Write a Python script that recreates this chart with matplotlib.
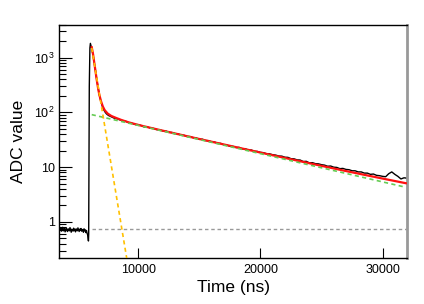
import matplotlib
matplotlib.use("Agg")
import matplotlib.pyplot as plt
from matplotlib.ticker import LogLocator, FixedLocator, NullFormatter

plt.rcParams['font.family'] = ['Liberation Sans', 'DejaVu Sans']
plt.rcParams['mathtext.fontset'] = 'custom'
plt.rcParams['mathtext.rm'] = 'Liberation Sans'

# ---- data ----
base_t = [3560 + 50 * i for i in range(47)]
base_v = [0.74, 0.70, 0.77, 0.68, 0.73, 0.80, 0.69, 0.71, 0.76, 0.66, 0.72, 0.78,
          0.70, 0.67, 0.75, 0.73, 0.69, 0.79, 0.71, 0.65, 0.74, 0.72, 0.68, 0.77,
          0.70, 0.73, 0.66, 0.75, 0.71, 0.69, 0.78, 0.72, 0.67, 0.74, 0.70, 0.76,
          0.68, 0.71, 0.73, 0.65, 0.75, 0.69, 0.72, 0.64, 0.70, 0.62, 0.58]

pulse_t = [5920, 5940, 5990, 6040, 6080, 6130, 6190, 6300, 6400, 6500, 6600, 6700,
           6800, 6900, 7000, 7100, 7200, 7300, 7400, 7500, 7600, 7700, 7800, 7900, 8000]
pulse_v = [0.45, 0.6, 300, 1500, 1820, 1650, 1450, 1100, 800, 570, 400, 290,
           215, 172, 142, 122, 109, 100, 94, 90, 87, 85, 83, 81, 79]

tail_t = [8250 + 250 * i for i in range(96)]
tail_v = [76.5, 73.0, 70.2, 68.5, 64.0, 63.2, 60.0, 59.8, 57.5, 54.0, 54.3, 51.5,
          51.0, 48.6, 48.2, 46.0, 45.8, 43.2, 43.0, 41.0, 40.6, 38.5, 38.2, 36.3,
          36.2, 34.5, 34.0, 32.2, 32.4, 30.6, 30.5, 29.0, 28.8, 27.2, 27.2, 25.5,
          25.4, 24.0, 24.0, 22.8, 23.0, 21.6, 21.8, 20.5, 20.6, 19.5, 19.4, 18.6,
          18.4, 17.6, 17.5, 16.9, 16.6, 16.0, 15.9, 15.2, 15.1, 14.3, 14.2, 13.6,
          13.5, 12.7, 12.8, 12.0, 12.1, 11.6, 11.5, 11.1, 10.9, 10.4, 10.5, 10.0,
          9.9, 9.4, 9.5, 9.1, 9.0, 8.6, 8.6, 8.2, 8.2, 7.8, 7.8, 7.4,
          7.5, 7.1, 7.0, 6.8, 6.7, 7.6, 8.2, 7.4, 6.8, 6.1, 6.4, 6.3]

data_t = base_t + pulse_t + tail_t
data_v = base_v + pulse_v + tail_v

# total fit (red)
fit_t = [6190, 6300, 6400, 6500, 6600, 6700, 6800, 6950, 7100, 7250, 7500, 7800,
         8200, 8600, 9200, 10000, 12000, 15000, 18000, 21000, 24000, 27000, 30000, 31900]
fit_v = [1550, 1150, 800, 560, 390, 285, 215, 160, 128, 110, 95, 86,
         79, 73, 66, 59, 46.4, 32.7, 23.2, 16.5, 11.8, 8.5, 6.2, 5.1]

# fast component (yellow)
fast_t = [6190, 9050]
fast_v = [1500, 0.22]

# slow component (green)
slow_t = [6190, 31900]
slow_v = [91, 4.3]

# constant baseline (gray)
const_t = [6190, 31900]
const_v = [0.75, 0.75]

# ---- plot ----
fig = plt.figure(figsize=(4.24, 3.04), dpi=100)
ax = fig.add_axes([0.1403, 0.1513, 0.8197, 0.7677])

ax.plot(data_t, data_v, color='black', lw=1.0, zorder=2)
ax.plot(fit_t, fit_v, color='#ff1010', lw=1.6, zorder=3)
ax.plot(slow_t, slow_v, color='#66cc55', lw=1.2, ls=(0, (2.5, 2)), zorder=4)
ax.plot(fast_t, fast_v, color='#ffc000', lw=1.2, ls=(0, (2.5, 2)), zorder=4)
ax.plot(const_t, const_v, color='#999999', lw=1.0, ls=(0, (2.5, 2)), zorder=4)

ax.set_yscale('log')
ax.set_xlim(3550, 32000)
ax.set_ylim(0.22, 4000)

ax.xaxis.set_major_locator(FixedLocator([10000, 20000, 30000]))
ax.set_xticklabels(['10000', '20000', '30000'])
ax.yaxis.set_major_locator(FixedLocator([1, 10, 100, 1000]))
ax.set_yticklabels(['1', '10', r'$10^{2}$', r'$10^{3}$'])
ax.yaxis.set_minor_locator(LogLocator(base=10, subs=range(2, 10)))
ax.yaxis.set_minor_formatter(NullFormatter())

ax.tick_params(axis='both', which='major', direction='in', labelsize=9, width=0.8)
ax.tick_params(axis='y', which='major', length=9)
ax.tick_params(axis='y', which='minor', direction='in', length=5, width=0.8)
ax.tick_params(axis='x', which='major', length=7, pad=4)
ax.tick_params(axis='x', which='minor', bottom=False)

for s in ['left', 'bottom', 'top']:
    ax.spines[s].set_linewidth(1.0)
    ax.spines[s].set_color('black')
ax.spines['right'].set_color('#999999')
ax.spines['right'].set_linewidth(2.0)

ax.set_xlabel('Time (ns)', fontsize=12.5, labelpad=3)
ax.set_ylabel('ADC value', fontsize=12.5, labelpad=6)

fig.savefig('out.png', dpi=100)
